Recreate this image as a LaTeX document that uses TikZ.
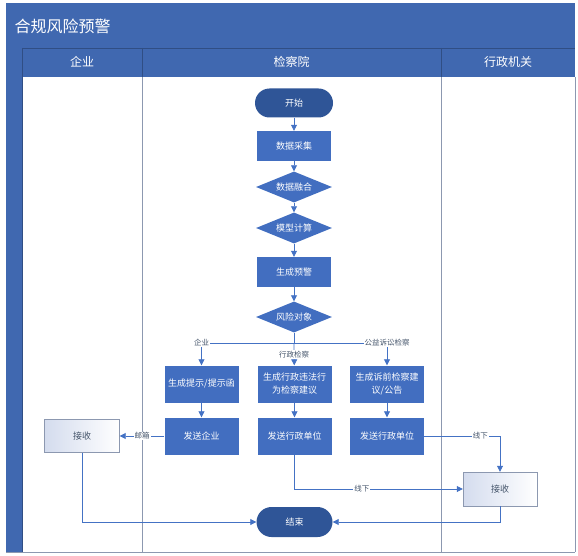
\documentclass[tikz,border=0pt]{standalone}
\usepackage{fontspec}
\setmainfont{Noto Sans CJK SC}
\usetikzlibrary{shapes.geometric,arrows.meta}
\definecolor{barblue}{RGB}{64,104,176}
\definecolor{boxblue}{RGB}{66,110,192}
\definecolor{termblue}{RGB}{47,85,151}
\definecolor{lineblue}{RGB}{68,114,196}
\definecolor{lanegray}{RGB}{140,152,176}
\definecolor{txtgray}{RGB}{68,84,106}
\definecolor{shadeblue}{RGB}{212,220,238}

\begin{document}
\begin{tikzpicture}[x=1pt, y=-1pt,
	proc/.style={rectangle, fill=boxblue, text=white, minimum width=74pt, minimum height=30pt, inner sep=1pt, align=center, font=\fontsize{9pt}{13pt}\selectfont},
	tall/.style={proc, minimum height=37pt},
	decide/.style={diamond, aspect=2.5, fill=boxblue, text=white, minimum width=76pt, minimum height=31pt, inner sep=0pt, font=\fontsize{9pt}{11pt}\selectfont},
	term/.style={rectangle, rounded corners=14.5pt, fill=termblue, text=white, minimum width=78pt, minimum height=29pt, font=\fontsize{9pt}{11pt}\selectfont},
	recv/.style={rectangle, draw=lanegray, left color=shadeblue, right color=white, text=txtgray, minimum width=75pt, minimum height=33pt, font=\fontsize{9pt}{11pt}\selectfont},
	lbl/.style={fill=white, text=txtgray, inner sep=1pt, font=\fontsize{7.5pt}{9pt}\selectfont},
	link/.style={draw=lineblue, line width=0.8pt},
	flow/.style={link, -{Triangle[length=6pt,width=6pt]}},
	hv/.style={to path={-| (\tikztotarget) \tikztonodes}},
	vh/.style={to path={|- (\tikztotarget) \tikztonodes}},
	lane/.style={draw=lanegray, line width=0.6pt}]

\useasboundingbox (0,0) rectangle (578,556);

\fill [barblue] (6,3) rectangle (575,77);
\fill [barblue] (6,77) rectangle (22,552);
\draw [barblue!75!black, line width=0.4pt] (22,48) -- (575,48);
\draw [barblue!75!black, line width=0.4pt] (22,48) -- (22,552);
\draw [barblue!75!black, line width=0.4pt] (142,48) -- (142,77);
\draw [barblue!75!black, line width=0.4pt] (441,48) -- (441,77);
\draw [lane] (142,77) -- (142,552);
\draw [lane] (441,77) -- (441,552);
\draw [lane] (575,77) -- (575,552);
\draw [lane] (6,552) -- (575,552);

\node (title) at (11,26) [anchor=west, text=white, font=\fontsize{16pt}{18pt}\selectfont]	{合规风险预警};
\node (lane1) at (82,62) [text=white, font=\fontsize{12pt}{14pt}\selectfont]	{企业};
\node (lane2) at (291.5,62) [text=white, font=\fontsize{12pt}{14pt}\selectfont]	{检察院};
\node (lane3) at (508,62) [text=white, font=\fontsize{12pt}{14pt}\selectfont]	{行政机关};

\node (start) at (294,103) [term]		{开始};
\node (collect) at (294,146) [proc]		{数据采集};
\node (fuse) at (294,187) [decide]		{数据融合};
\node (calc) at (294,228) [decide]		{模型计算};
\node (warn) at (294,272) [proc]		{生成预警};
\node (obj) at (294,317) [decide]		{风险对象};
\coordinate (split) at (294,343);

\node (g1) at (201.5,384) [tall]		{生成提示/提示函};
\node (g2) at (294.5,384) [tall]		{生成行政违法行\\为检察建议};
\node (g3) at (387,384) [tall]		{生成诉前检察建\\议/公告};

\node (s1) at (201.5,436) [tall]		{发送企业};
\node (s2) at (294.5,436) [tall]		{发送行政单位};
\node (s3) at (387,436) [tall]		{发送行政单位};

\node (rc1) at (82,436) [recv]		{接收};
\node (rc2) at (500,489) [recv, minimum width=74pt, minimum height=34pt]		{接收};
\node (stop) at (294.5,522) [term, minimum width=76pt, minimum height=30pt, rounded corners=15pt]		{结束};

\path (start) edge [draw, flow] (collect);
\path (collect) edge [draw, flow] (fuse);
\path (fuse) edge [draw, flow] (calc);
\path (calc) edge [draw, flow] (warn);
\path (warn) edge [draw, flow] (obj);
\path (obj) edge [draw, link] (split);

\path (split) edge [draw, flow, hv] node [lbl] {企业} (g1);
\path (split) edge [draw, flow] node [lbl] {行政检察} (g2);
\path (split) edge [draw, flow, hv] node [lbl] {公益诉讼检察} (g3);

\path (g1) edge [draw, flow] (s1);
\path (g2) edge [draw, flow] (s2);
\path (g3) edge [draw, flow] (s3);

\path (s1) edge [draw, flow] node [lbl] {邮箱} (rc1);
\path (s3) edge [draw, flow, hv] node [lbl, pos=0.37] {线下} (rc2);
\path (s2) edge [draw, flow, vh] node [lbl, pos=0.7] {线下} (rc2);

\path (rc1) edge [draw, flow, vh] (stop);
\path (rc2) edge [draw, flow, vh] (stop);

\end{tikzpicture}
\end{document}
